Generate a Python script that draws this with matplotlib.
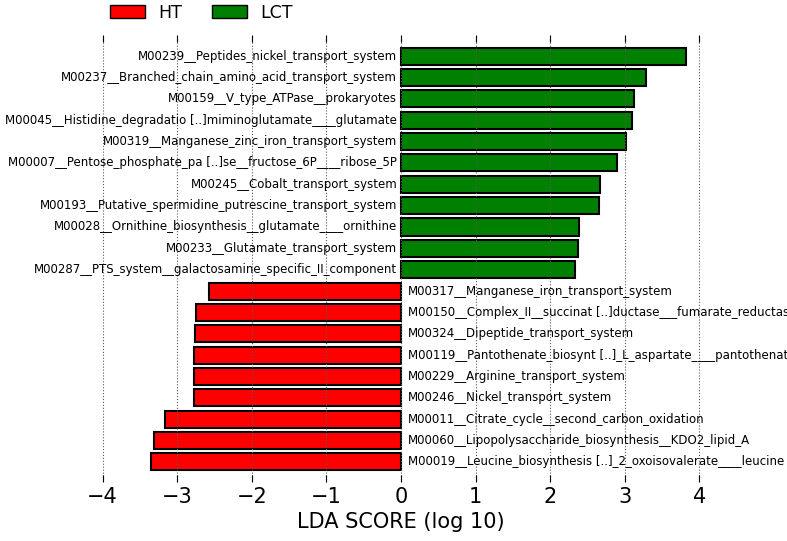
import matplotlib
matplotlib.use("Agg")
import matplotlib.pyplot as plt
from matplotlib.patches import Patch

# features listed top to bottom, with LDA scores (negative = HT, positive = LCT)
features = [
    "M00239__Peptides_nickel_transport_system",
    "M00237__Branched_chain_amino_acid_transport_system",
    "M00159__V_type_ATPase__prokaryotes",
    "M00045__Histidine_degradatio [..]miminoglutamate____glutamate",
    "M00319__Manganese_zinc_iron_transport_system",
    "M00007__Pentose_phosphate_pa [..]se__fructose_6P____ribose_5P",
    "M00245__Cobalt_transport_system",
    "M00193__Putative_spermidine_putrescine_transport_system",
    "M00028__Ornithine_biosynthesis__glutamate____ornithine",
    "M00233__Glutamate_transport_system",
    "M00287__PTS_system__galactosamine_specific_II_component",
    "M00317__Manganese_iron_transport_system",
    "M00150__Complex_II__succinat [..]ductase___fumarate_reductase",
    "M00324__Dipeptide_transport_system",
    "M00119__Pantothenate_biosynt [..]_L_aspartate____pantothenate",
    "M00229__Arginine_transport_system",
    "M00246__Nickel_transport_system",
    "M00011__Citrate_cycle__second_carbon_oxidation",
    "M00060__Lipopolysaccharide_biosynthesis__KDO2_lipid_A",
    "M00019__Leucine_biosynthesis [..]_2_oxoisovalerate____leucine",
]
scores = [3.82, 3.28, 3.12, 3.10, 3.02, 2.89, 2.67, 2.66, 2.39, 2.37, 2.33,
          -2.58, -2.75, -2.76, -2.77, -2.78, -2.78, -3.16, -3.31, -3.35]
groups = ["LCT"] * 11 + ["HT"] * 9
group_colors = {"HT": "#ff0000", "LCT": "#008000"}
ticks = [-4, -3, -2, -1, 0, 1, 2, 3, 4]


def plot_lda():
    fig = plt.figure(figsize=(7.87, 5.41), dpi=100)
    ax = fig.add_axes([0.083, 0.109, 0.853, 0.826])

    n = len(features)
    ypos = [n - 1 - i for i in range(n)]
    colors = [group_colors[g] for g in groups]
    ax.barh(ypos, scores, height=0.8, color=colors, edgecolor="black",
            linewidth=1.5, zorder=1)

    # long names run off the right edge, as in the original figure
    for y, s, name in zip(ypos, scores, features):
        if s > 0:
            ax.text(-0.05, y, name, ha="right", va="center", fontsize=8.5)
        else:
            ax.text(0.09, y, name, ha="left", va="center", fontsize=8.5)

    ax.set_xlim(-4.5, 4.5)
    ax.set_ylim(-0.94, 19.98)
    ax.set_xticks(ticks)
    ax.set_yticks([])
    ax.tick_params(axis="x", direction="in", top=True, bottom=True,
                   length=5, labelsize=15)
    for sp in ax.spines.values():
        sp.set_visible(False)
    ax.xaxis.grid(True, linestyle=":", color="0.35", linewidth=0.8)
    ax.set_axisbelow(False)
    ax.set_xlabel("LDA SCORE (log 10)", fontsize=15)

    handles = [Patch(facecolor=group_colors[g], edgecolor="black", label=g)
               for g in ["HT", "LCT"]]
    fig.legend(handles=handles, loc="upper left", bbox_to_anchor=(0.12, 1.022),
               ncol=2, frameon=False, fontsize=12.5, handlelength=2.0,
               handleheight=0.75, handletextpad=0.75, columnspacing=1.75)

    fig.savefig("out.png", dpi=100)


if __name__ == "__main__":
    plot_lda()
